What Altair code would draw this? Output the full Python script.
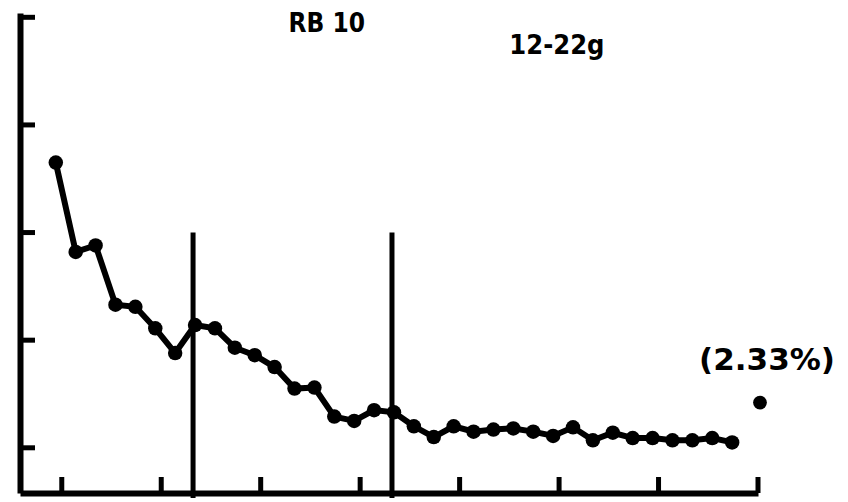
import altair as alt
import pandas as pd

# ---- data ----
days = list(range(1, 36))
values = [3.65, 2.82, 2.88, 2.33, 2.31, 2.11, 1.88, 2.14, 2.11, 1.93,
          1.86, 1.75, 1.55, 1.56, 1.29, 1.25, 1.35, 1.33, 1.20, 1.10,
          1.20, 1.15, 1.17, 1.18, 1.15, 1.11, 1.19, 1.07, 1.14, 1.09,
          1.09, 1.07, 1.07, 1.09, 1.05]
extra_day = [36.4]
extra_value = [1.42]
extra_label = ["(2.33%)"]
divider_days = [7.9, 17.9]
divider_top = [3.0, 3.0]
x_ticks = [1.3, 6.3, 11.3, 16.3, 21.3, 26.3, 31.3, 36.3]
y_ticks = [1, 2, 3, 4, 5]
labels = ["RB 10", "12-22g"]
label_x = [12.7, 23.8]
label_y = [4.94, 4.73]
label_size = [26, 27]
x_domain = [-0.8, 36.3]
y_domain = [0.58, 5.04]

W, H = 738, 480
NARROW = "DejaVu Sans Condensed, sans-serif"
FONT = "DejaVu Sans"

main = pd.DataFrame({"day": days, "value": values})
extra = pd.DataFrame({"day": extra_day, "value": extra_value, "label": extra_label})
dividers = pd.DataFrame({"day": divider_days, "top": divider_top})
xt = pd.DataFrame({"t": x_ticks})
yt = pd.DataFrame({"t": y_ticks})
lab = pd.DataFrame({"label": labels, "x": label_x, "y": label_y, "s": label_size})

xs = alt.Scale(domain=x_domain, nice=False, zero=False)
ys = alt.Scale(domain=y_domain, nice=False, zero=False)
xax = alt.Axis(domain=True, ticks=False, labels=False, grid=False, title=None,
               domainColor="black", domainWidth=6)
yax = alt.Axis(domain=True, ticks=False, labels=False, grid=False, title=None,
               domainColor="black", domainWidth=6)

line = alt.Chart(main).mark_line(color="black", strokeWidth=6).encode(
    x=alt.X("day:Q", scale=xs, axis=xax),
    y=alt.Y("value:Q", scale=ys, axis=yax),
)
pts = alt.Chart(main).mark_circle(color="black", size=210, opacity=1).encode(
    x=alt.X("day:Q", scale=xs), y=alt.Y("value:Q", scale=ys)
)
extra_pt = alt.Chart(extra).mark_circle(color="black", size=190, opacity=1).encode(
    x=alt.X("day:Q", scale=xs), y=alt.Y("value:Q", scale=ys)
)
extra_txt = alt.Chart(extra).mark_text(
    font=FONT, fontWeight="bold", fontSize=31, color="black", dy=-42, dx=7
).encode(x=alt.X("day:Q", scale=xs), y=alt.Y("value:Q", scale=ys), text="label:N")

divs = alt.Chart(dividers).mark_rule(color="black", strokeWidth=5).encode(
    x=alt.X("day:Q", scale=xs), y=alt.Y("top:Q", scale=ys), y2=alt.value(H + 8)
)
xtick = alt.Chart(xt).mark_rule(color="black", strokeWidth=5).encode(
    x=alt.X("t:Q", scale=xs), y=alt.value(H), y2=alt.value(H - 16)
)
ytick = alt.Chart(yt).mark_rule(color="black", strokeWidth=5).encode(
    y=alt.Y("t:Q", scale=ys), x=alt.value(0), x2=alt.value(15)
)
texts = alt.Chart(lab).mark_text(
    font=NARROW, fontWeight="bold", color="black", align="left", baseline="middle"
).encode(
    x=alt.X("x:Q", scale=xs), y=alt.Y("y:Q", scale=ys), text="label:N",
    size=alt.Size("s:Q", scale=None, legend=None),
)

chart = alt.layer(line, pts, extra_pt, extra_txt, divs, xtick, ytick, texts).properties(
    width=W, height=H,
    padding={"left": 12, "top": 5, "right": 82, "bottom": 5},
    autosize=alt.AutoSizeParams(type="none"),
    background="white",
).configure_view(stroke=None)

chart.save("out.html", embed_options={"renderer": "svg", "actions": False})
